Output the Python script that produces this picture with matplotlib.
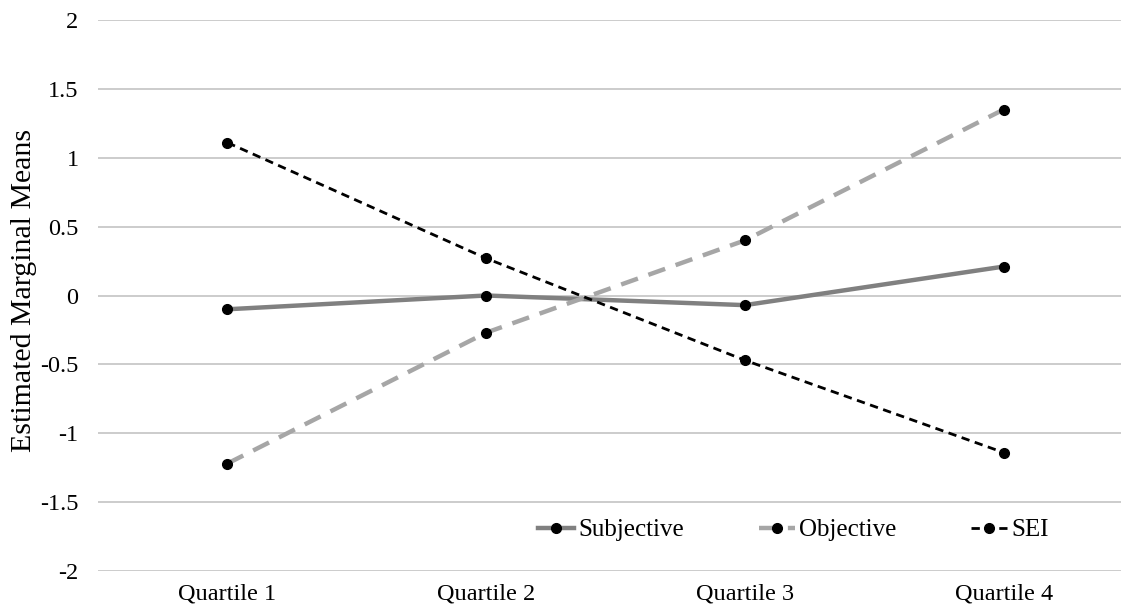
import matplotlib
matplotlib.use("Agg")
import matplotlib.pyplot as plt

categories = ["Quartile 1", "Quartile 2", "Quartile 3", "Quartile 4"]
subjective = [-0.10, 0.00, -0.07, 0.21]
objective = [-1.22, -0.27, 0.40, 1.35]
sei = [1.11, 0.27, -0.47, -1.14]
yticks = [-2, -1.5, -1, -0.5, 0, 0.5, 1, 1.5, 2]
ytick_labels = ["-2", "-1.5", "-1", "-0.5", "0", "0.5", "1", "1.5", "2"]

plt.rcParams['font.family'] = ['Liberation Serif', 'DejaVu Serif']

W, H = 1121, 611
fig = plt.figure(figsize=(W / 100, H / 100), dpi=100)
ax = fig.add_axes([98 / W, 1 - 571 / H, (1133 - 98) / W, (571 - 20) / H])

x = list(range(len(categories)))
ax.plot(x, subjective, color="#808080", lw=3.2, marker="o", ms=7,
        mfc="black", mec="black", label="Subjective", zorder=3)
ax.plot(x, objective, color="#a6a6a6", lw=3.2, ls=(0, (4, 2.5)), marker="o", ms=7,
        mfc="black", mec="black", label="Objective", zorder=3)
ax.plot(x, sei, color="black", lw=2, ls=(0, (3, 2)), marker="o", ms=7,
        mfc="black", mec="black", label="SEI", zorder=4)

ax.set_xlim(-0.5, 3.5)
ax.set_ylim(-2, 2)
ax.set_yticks(yticks)
ax.set_yticklabels(ytick_labels)
ax.set_xticks(x)
ax.set_xticklabels(categories)
ax.grid(axis="y", color="#c8c8c8", lw=1.3)
ax.set_axisbelow(True)
for s in ax.spines.values():
    s.set_visible(False)
ax.tick_params(axis="both", length=0, labelsize=17.5, colors="black")
ax.tick_params(axis="y", pad=14)
ax.tick_params(axis="x", pad=9)

fig.text(24 / W, 1 - 290 / H, "Estimated Marginal Means", rotation=90,
         ha="center", va="center", fontsize=21.5)

fig.legend(*ax.get_legend_handles_labels(), loc="center left",
           bbox_to_anchor=(538 / W, 1 - 530 / H), bbox_transform=fig.transFigure,
           ncol=3, frameon=False, fontsize=18, handlelength=1.45,
           handletextpad=0.15, columnspacing=3.0, borderpad=0, borderaxespad=0)

fig.savefig("out.png", dpi=100)
